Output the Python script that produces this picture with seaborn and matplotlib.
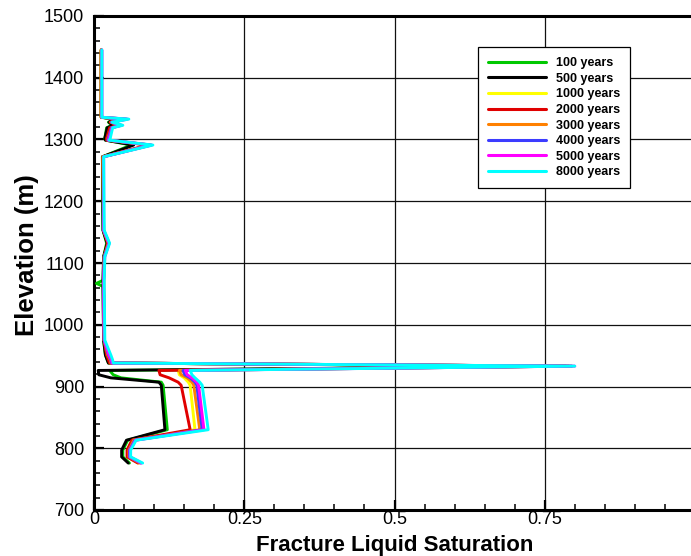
import matplotlib
matplotlib.use("Agg")
import matplotlib.pyplot as plt
from matplotlib.ticker import MultipleLocator, FixedLocator, FixedFormatter
import numpy as np
import pandas as pd
import seaborn as sns

# Elevation nodes of the profile (m), top to bottom
elevation = [1445, 1336, 1333, 1328, 1323, 1319, 1302, 1299, 1291, 1272,
             1153, 1132, 1110, 1072, 1067, 1062, 975, 951, 943, 938,
             933, 926, 919, 914, 907, 902, 830, 813, 797, 786, 776]

times = ["100 years", "500 years", "1000 years", "2000 years",
         "3000 years", "4000 years", "5000 years", "8000 years"]

colors = ["#00C800", "#000000", "#FFFF00", "#E00000",
          "#FF8000", "#3C3CFF", "#FF00FF", "#00FFFF"]

# Fracture liquid saturation at each elevation node
sat_100 = [0.012, 0.012, 0.033, 0.024, 0.030, 0.021, 0.018, 0.019, 0.062, 0.014,
           0.015, 0.021, 0.016, 0.015, 0.004, 0.015, 0.016, 0.019, 0.022, 0.024,
           0.785, 0.026, 0.032, 0.045, 0.112, 0.115, 0.122, 0.056, 0.048, 0.048, 0.059]
sat_500 = [0.012, 0.012, 0.035, 0.025, 0.032, 0.022, 0.018, 0.019, 0.066, 0.014,
           0.015, 0.022, 0.016, 0.015, 0.015, 0.015, 0.016, 0.019, 0.022, 0.024,
           0.785, 0.007, 0.008, 0.028, 0.108, 0.112, 0.118, 0.054, 0.046, 0.046, 0.057]
sat_1000 = [0.012, 0.012, 0.050, 0.028, 0.043, 0.028, 0.022, 0.022, 0.092, 0.015,
            0.016, 0.024, 0.017, 0.016, 0.016, 0.016, 0.017, 0.022, 0.026, 0.027,
            0.79, 0.140, 0.142, 0.150, 0.157, 0.160, 0.168, 0.064, 0.056, 0.056, 0.074]
sat_2000 = [0.012, 0.012, 0.045, 0.027, 0.040, 0.026, 0.021, 0.021, 0.090, 0.015,
            0.016, 0.023, 0.017, 0.016, 0.016, 0.016, 0.017, 0.021, 0.024, 0.026,
            0.79, 0.108, 0.110, 0.125, 0.140, 0.145, 0.160, 0.063, 0.055, 0.055, 0.073]
sat_3000 = [0.012, 0.012, 0.052, 0.028, 0.044, 0.029, 0.023, 0.023, 0.094, 0.015,
            0.016, 0.024, 0.017, 0.016, 0.016, 0.016, 0.017, 0.023, 0.027, 0.028,
            0.795, 0.142, 0.145, 0.155, 0.163, 0.166, 0.176, 0.066, 0.058, 0.058, 0.076]
sat_4000 = [0.013, 0.013, 0.054, 0.029, 0.045, 0.029, 0.024, 0.023, 0.095, 0.016,
            0.016, 0.025, 0.017, 0.016, 0.016, 0.016, 0.017, 0.024, 0.028, 0.029,
            0.795, 0.148, 0.151, 0.160, 0.168, 0.171, 0.180, 0.068, 0.059, 0.059, 0.078]
sat_5000 = [0.013, 0.013, 0.056, 0.030, 0.046, 0.030, 0.025, 0.024, 0.096, 0.016,
            0.016, 0.025, 0.018, 0.016, 0.016, 0.016, 0.017, 0.025, 0.029, 0.030,
            0.80, 0.152, 0.155, 0.163, 0.171, 0.174, 0.183, 0.069, 0.060, 0.060, 0.079]
sat_8000 = [0.013, 0.013, 0.058, 0.030, 0.048, 0.031, 0.027, 0.025, 0.098, 0.016,
            0.017, 0.026, 0.018, 0.017, 0.017, 0.017, 0.018, 0.028, 0.031, 0.032,
            0.80, 0.160, 0.163, 0.168, 0.176, 0.180, 0.190, 0.070, 0.061, 0.061, 0.081]

series = [sat_100, sat_500, sat_1000, sat_2000, sat_3000, sat_4000, sat_5000, sat_8000]

x_ticks = [0, 0.25, 0.5, 0.75, 1.0]
x_tick_labels = ["0", "0.25", "0.5", "0.75", ""]
y_ticks = [700, 800, 900, 1000, 1100, 1200, 1300, 1400, 1500]

frames = []
for t, s in zip(times, series):
    frames.append(pd.DataFrame({"elevation": elevation, "saturation": s, "time": t}))
df = pd.concat(frames, ignore_index=True)

sns.set_style("white")
plt.rcParams["font.family"] = ["Liberation Sans", "DejaVu Sans"]
plt.rcParams["text.color"] = "black"
plt.rcParams["axes.labelcolor"] = "black"
plt.rcParams["xtick.color"] = "black"
plt.rcParams["ytick.color"] = "black"

fig = plt.figure(figsize=(6.91, 5.56), dpi=100)
W, H = 691, 556
ax = fig.add_axes([94 / W, 1 - 510 / H, 601 / W, 494 / H])

sns.lineplot(data=df, x="saturation", y="elevation", hue="time",
             hue_order=times, palette=dict(zip(times, colors)),
             sort=False, estimator=None, linewidth=2.1, ax=ax, zorder=3)

ax.set_xlim(0, 1.0)
ax.set_ylim(700, 1500)

ax.xaxis.set_major_locator(FixedLocator(x_ticks))
ax.xaxis.set_major_formatter(FixedFormatter(x_tick_labels))
ax.xaxis.set_minor_locator(MultipleLocator(0.05))
ax.yaxis.set_major_locator(FixedLocator(y_ticks))
ax.yaxis.set_minor_locator(MultipleLocator(20))

ax.grid(True, which="major", color="#111111", linewidth=0.9, zorder=1)
ax.set_axisbelow(True)

ax.tick_params(axis="both", which="major", direction="in", length=7.5, width=1.6,
               labelsize=13, color="black", labelcolor="black",
               left=True, bottom=True, pad=4)
ax.tick_params(axis="both", which="minor", direction="in", length=4.5, width=1.1,
               color="black", left=True, bottom=True)
ax.tick_params(axis="y", which="major", pad=7)
ax.tick_params(axis="x", which="major", pad=1)

for sp in ax.spines.values():
    sp.set_linewidth(2.2)
    sp.set_color("black")
    sp.set_visible(True)

ax.set_xlabel("Fracture Liquid Saturation", fontsize=16, fontweight="bold",
              labelpad=5, color="black")
ax.set_ylabel("Elevation (m)", fontsize=18.5, fontweight="bold", color="black")
ax.yaxis.set_label_coords(-0.092, 0.516)

handles, labels = ax.get_legend_handles_labels()
leg = ax.legend(handles, labels, loc="upper left", bbox_to_anchor=(0.639, 0.937),
                borderaxespad=0, frameon=True, fancybox=False, shadow=False,
                edgecolor="black", framealpha=1, handlelength=4.6,
                handletextpad=0.8, labelspacing=0.29, borderpad=0.8,
                prop={"size": 9, "weight": "bold"})
leg.get_frame().set_linewidth(0.9)
for h in leg.get_lines():
    h.set_linewidth(2.2)

fig.savefig("out.png", dpi=100)
